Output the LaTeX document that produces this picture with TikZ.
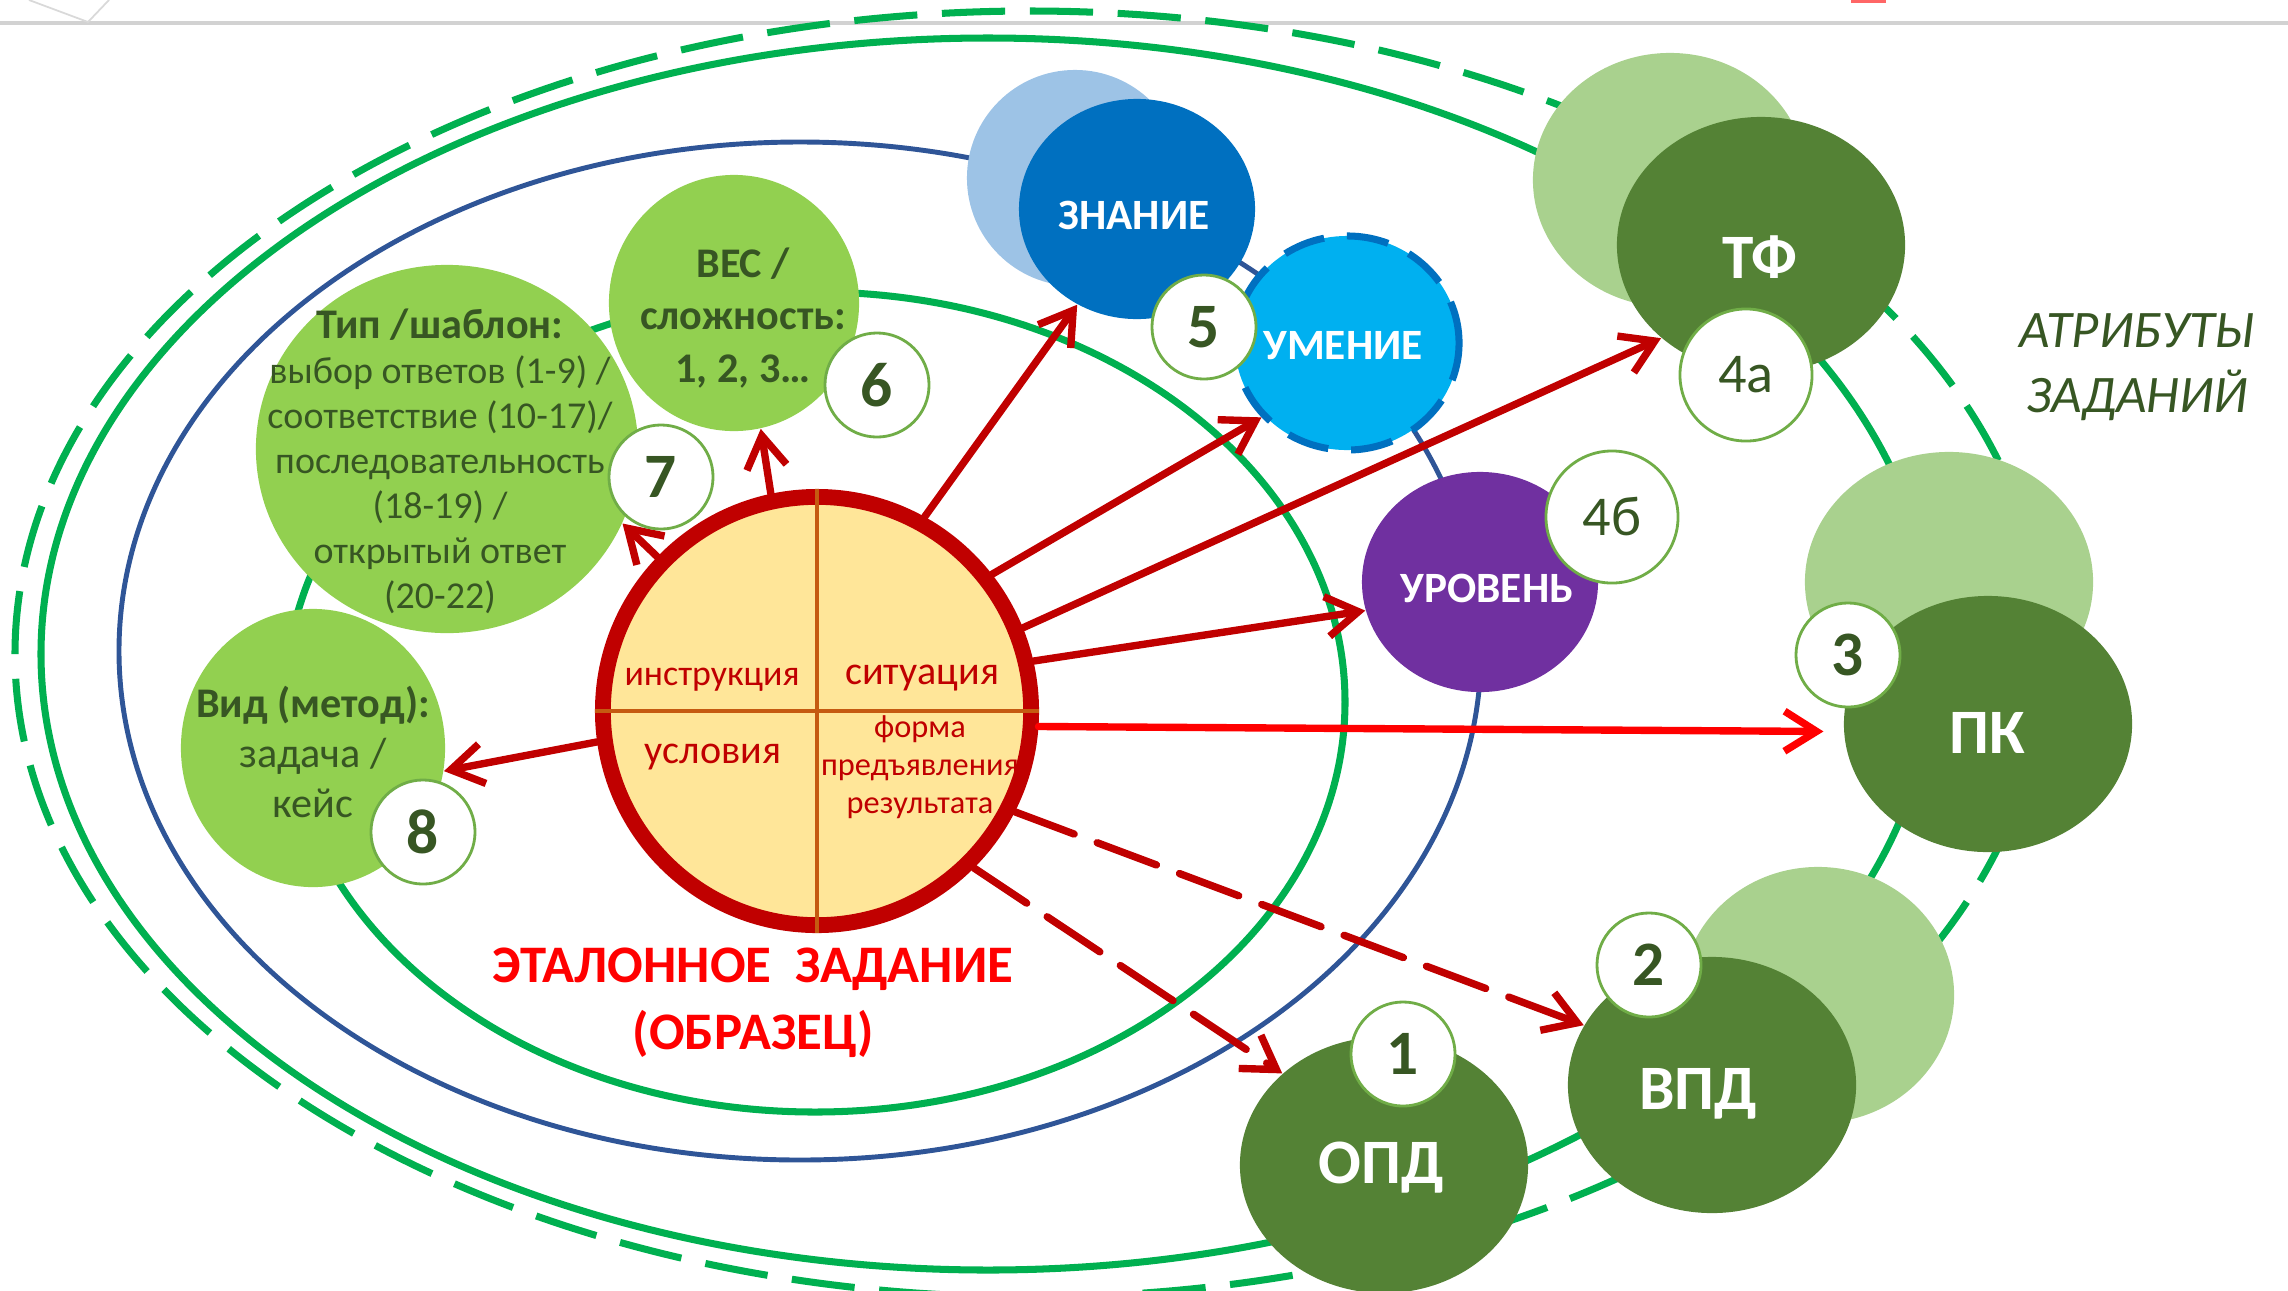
\documentclass[tikz,border=0pt]{standalone}
\usepackage{fontspec}
\setmainfont{Carlito}
\usepackage{tikz}
\usetikzlibrary{calc,positioning,shapes.geometric,arrows.meta}

\definecolor{ringGreen}{HTML}{00B050}
\definecolor{ringBlue}{HTML}{2F5597}
\definecolor{darkRed}{HTML}{C00000}
\definecolor{brightRed}{HTML}{FF0000}
\definecolor{leafDark}{HTML}{548235}
\definecolor{leafLight}{HTML}{A9D18E}
\definecolor{lime}{HTML}{92D050}
\definecolor{textGreen}{HTML}{375623}
\definecolor{badgeLine}{HTML}{70AD47}
\definecolor{knowBlue}{HTML}{0070C0}
\definecolor{knowLight}{HTML}{9DC3E6}
\definecolor{skillCyan}{HTML}{00B0F0}
\definecolor{levelPurple}{HTML}{7030A0}
\definecolor{sampleFill}{HTML}{FFE699}
\definecolor{crossLine}{HTML}{C55A11}

\begin{document}
\begin{tikzpicture}[x=0.01cm,y=-0.01cm]
  \newcommand{\bigfont}{\fontsize{18}{20}\selectfont\bfseries}
  \newcommand{\midfont}{\fontsize{12.3}{14}\selectfont\bfseries}
  \tikzstyle{blob}=[ellipse,inner sep=0pt]
  \tikzstyle{bigtext}=[text=white,font=\bigfont,text height=11.6pt,text depth=0pt,inner sep=0pt]
  \tikzstyle{midtext}=[text=white,font=\midfont,text height=7.9pt,text depth=0pt,inner sep=0pt]
  \tikzstyle{badge}=[circle,draw=badgeLine,line width=0.8pt,fill=white,inner sep=0pt,minimum size=1.04cm,text=textGreen]
  \tikzstyle{arr}=[draw=darkRed,line width=2.1pt,line cap=round,-{Straight Barb[length=0.32cm,width=0.4cm]}]
  \useasboundingbox (0,0) rectangle (2288,1290);
  \draw[gray!35,line width=1pt] (0,23) -- (2288,23);
  \draw[gray!30,line width=0.5pt] (29,0) -- (88,22) -- (109,0);
  \fill[red!60] (1851,0) rectangle (1886,3);

  \draw[ringGreen,line width=2pt,dash pattern=on 18pt off 7pt] (1030,654) ellipse (1015 and 643);
  \draw[ringGreen,line width=2pt] (988,654) ellipse (947 and 616);
  \draw[ringBlue,line width=1.4pt] (800,651) ellipse (681 and 509);
  \draw[ringGreen,line width=2pt] (815,702) ellipse (530 and 410);

  \node[blob,fill=knowLight,minimum width=2.16cm,minimum height=2.16cm] (znB) at (1075,178) {};
  \node[blob,fill=leafLight,minimum width=2.74cm,minimum height=2.54cm] (tfB) at (1670,180) {};
  \node[blob,fill=leafLight,minimum width=2.88cm,minimum height=2.60cm] (pkB) at (1949,582) {};
  \node[blob,fill=leafLight,minimum width=2.72cm,minimum height=2.56cm] (vpdB) at (1818,995) {};

  \node[blob,fill=knowBlue,minimum width=2.36cm,minimum height=2.20cm] (zn) at (1137,209) {};
  \node[blob,fill=skillCyan,draw=knowBlue,line width=2pt,dash pattern=on 12pt off 6.5pt,minimum width=2.24cm,minimum height=2.14cm] (um) at (1347,343) {};
  \node[blob,fill=levelPurple,minimum width=2.36cm,minimum height=2.20cm] (ur) at (1480,582) {};
  \node[midtext] (znT) at (1134,216) {ЗНАНИЕ};
  \node[midtext] (umT) at (1343,346) {УМЕНИЕ};
  \node[midtext] (urT) at (1487,589) {УРОВЕНЬ};
  \foreach \n/\x/\y/\tx/\ty/\t in {tf/1761/245/1760/258/ТФ,pk/1988/724/1987/733/ПК,vpd/1712/1085/1698/1089/ВПД,opd/1384/1165/1381/1163/ОПД}{
    \node[blob,fill=leafDark,minimum width=2.88cm,minimum height=2.56cm] (\n) at (\x,\y) {};
    \node[bigtext] (\n T) at (\tx,\ty) {\t};
  }

  \node[blob,fill=lime,minimum width=2.50cm,minimum height=2.56cm] (ves) at (734,303) {};
  \node[blob,fill=lime,minimum width=3.82cm,minimum height=3.68cm] (tip) at (447,449) {};
  \node[blob,fill=lime,minimum width=2.64cm,minimum height=2.78cm] (vid) at (313,748) {};
  \node[align=center,text=textGreen,font=\fontsize{12}{14.8}\selectfont\bfseries] (vesT) at (743,318) {ВЕС /\\сложность:\\1, 2, 3…};
  \node[align=center,text=textGreen,font=\fontsize{10.8}{12.8}\selectfont] (tipT) at (440,461)
    {{\fontsize{12}{12.8}\selectfont\bfseries Тип /шаблон:}\\выбор ответов (1-9) /\\соответствие (10-17)/\\последовательность\\(18-19) /\\открытый ответ\\(20-22)};
  \node[align=center,text=textGreen,font=\fontsize{12}{14.2}\selectfont] (vidT) at (313,752) {\textbf{Вид (метод):}\\задача /\\кейс};

  \node[circle,draw=darkRed,line width=4.5pt,fill=sampleFill,minimum size=4.28cm,inner sep=0pt] (et) at (817,711) {};
  \draw[crossLine,line width=1.4pt] (et.north) -- (et.south);
  \draw[crossLine,line width=1.4pt] (et.west) -- (et.east);
  \node[text=darkRed,font=\fontsize{10.2}{12}\selectfont] (instr) at (712,680) {инструкция};
  \node[text=darkRed,font=\fontsize{11.4}{13}\selectfont] (sit) at (922,678) {ситуация};
  \node[text=darkRed,font=\fontsize{11.4}{13}\selectfont] (usl) at (713,757) {условия};
  \node[align=center,text=darkRed,font=\fontsize{9.2}{10.8}\selectfont] (forma) at (920,767) {форма\\предъявления\\результата};

  \draw[arr] (et.61) -- (zn.238);
  \draw[arr] (et.38) -- (um.221);
  \draw[arr] (et.22) -- (tf.223);
  \draw[arr] (et.13) -- (ur.194);
  \draw[arr,draw=brightRed,shorten >=0.2cm] (et.-4) -- (pk.183);
  \draw[arr,dash pattern=on 18pt off 7pt] (et.-27) -- (vpd.155);
  \draw[arr,dash pattern=on 18pt off 7pt] (et.-45) -- (opd.138);
  \draw[arr] (et.102) -- (ves.282);
  \draw[arr] (et.136) -- (tip.-23);
  \draw[arr] (et.188) -- (vid.-10);

  \foreach \x/\y/\t in {1204/327/5,877/385/6,661/477/7,423/832/8,1848/655/3,1649/965/2,1403/1054/1}{
    \node[badge,font=\bigfont] (b\t) at (\x,\y) {\t};
  }
  \node[badge,minimum size=1.32cm,font=\fontsize{16}{18}\selectfont] (b4a) at (1746,375) {4а};
  \node[badge,minimum size=1.32cm,font=\fontsize{16}{18}\selectfont] (b4b) at (1612,517) {4б};

  \node[align=center,text=brightRed,font=\fontsize{15}{19}\selectfont\bfseries] (title) at (753,1003) {ЭТАЛОННОЕ\ \ ЗАДАНИЕ\\(ОБРАЗЕЦ)};
  \node[align=center,text=textGreen,font=\fontsize{15}{18.5}\selectfont\itshape] (attr) at (2137,367) {АТРИБУТЫ\\ЗАДАНИЙ};
\end{tikzpicture}
\end{document}
